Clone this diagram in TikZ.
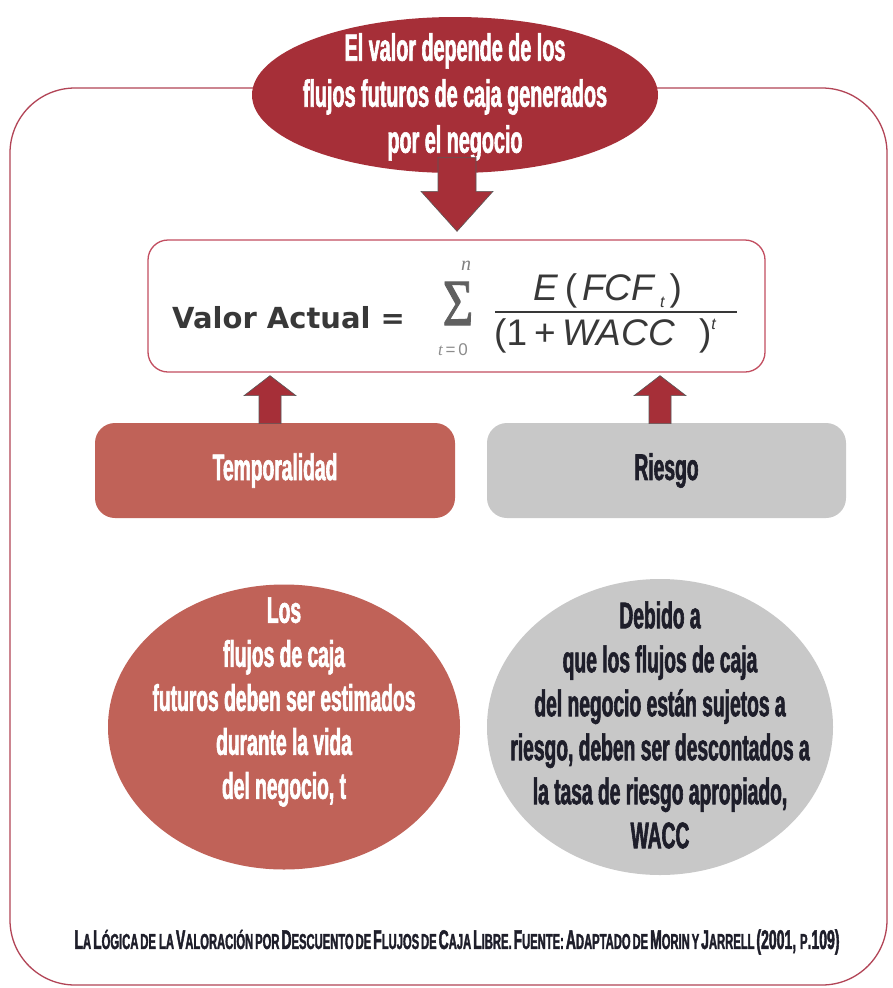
\documentclass[tikz,border=0pt]{standalone}
\usepackage{fontspec}
\usepackage{graphicx}
\usetikzlibrary{calc,shapes.geometric}
\newfontfamily\cond{Liberation Sans Bold}[FakeStretch=0.52,FakeBold=1.6]
\newfontfamily\djb{DejaVu Sans Bold}
\newfontfamily\lsi{Liberation Sans Italic}
\newfontfamily\lsr{Liberation Sans}
\newfontfamily\lser{Liberation Serif}[FakeBold=1.5]
\newfontfamily\lseri{Liberation Serif Italic}
\definecolor{darkred}{HTML}{A62F38}
\definecolor{salmon}{HTML}{C06258}
\definecolor{lgray}{HTML}{C8C8C8}
\definecolor{frame}{HTML}{B24456}
\definecolor{fborder}{HTML}{C24E60}
\definecolor{ink}{HTML}{1E1E2A}
\definecolor{fink}{HTML}{383838}
\newcommand\capw[2]{{\fontsize{20}{20}\selectfont #1}{\fontsize{16}{16}\selectfont #2}}
\begin{document}
\begin{tikzpicture}[x=1pt,y=-1pt,
  bigtxt/.style={font=\cond\fontsize{37}{44}\selectfont, align=center, inner sep=0pt},
  topell/.style={ellipse, fill=darkred, inner sep=0pt},
  roundbox/.style={rounded corners=20pt, inner sep=0pt},
  blockarrow/.style={fill=darkred, draw=black!65, line width=0.6pt, line join=miter}
]
\useasboundingbox (0,0) rectangle (892,988);
\fill[white] (0,0) rectangle (892,988);
% outer frame
\draw[frame, line width=1.3pt, rounded corners=65pt] (10,88) rectangle (887,985);
% formula box
\node[roundbox, draw=fborder, line width=1.3pt, fill=white, minimum width=617pt, minimum height=132pt] (formula) at (456.5,306) {};
% top ellipse
\node[topell, minimum width=406pt, minimum height=156pt] (top) at (455,95) {};
\node[bigtxt, font=\cond\fontsize{38}{46}\selectfont, text=white] (toptxt) at (455,97) {El valor depende de los\\flujos futuros de caja generados\\por el negocio};
% boxes
\node[roundbox, fill=salmon, minimum width=360pt, minimum height=95pt] (temp) at (275,470.5) {};
\node[bigtxt, text=white] (temptxt) at (temp.center) {Temporalidad};
\node[roundbox, fill=lgray, minimum width=359pt, minimum height=95pt] (riesgo) at (666.5,470.5) {};
\node[bigtxt, text=ink] (riesgotxt) at (riesgo.center) {Riesgo};
% down arrow
\coordinate (dt) at ($(formula.north)+(0.5,-8)$);
\draw[blockarrow] (dt) -- ++(-36,-40) -- ++(17,0) -- ++(0,-34) -- ++(38,0) -- ++(0,34) -- ++(17,0) -- cycle;
% up arrows
\coordinate (ul) at ($(formula.south)+(-186.5,3)$);
\coordinate (ur) at ($(formula.south)+(203.5,3)$);
\draw[blockarrow] (ul) -- ++(-26,20) -- ++(15,0) -- ++(0,28) -- ++(22,0) -- ++(0,-28) -- ++(15,0) -- cycle;
\draw[blockarrow] (ur) -- ++(-26,20) -- ++(15,0) -- ++(0,28) -- ++(22,0) -- ++(0,-28) -- ++(15,0) -- cycle;
% circles
\node[ellipse, fill=salmon, minimum width=352pt, minimum height=285pt, inner sep=0pt] (lc) at (284,727) {};
\node[bigtxt, text=white] (lctxt) at (284,702) {Los\\flujos de caja\\futuros deben ser estimados\\durante la vida\\del negocio, t};
\node[ellipse, fill=lgray, minimum width=346pt, minimum height=296pt, inner sep=0pt] (rc) at (660,727) {};
\node[bigtxt, text=ink] (rctxt) at (660,725) {Debido a\\que los flujos de caja\\del negocio están sujetos a\\riesgo, deben ser descontados a\\la tasa de riesgo apropiado,\\WACC};
% formula contents
\node[anchor=base west, inner sep=0pt, text=fink, font=\djb\fontsize{29}{29}\selectfont] (va) at (172,328) {Valor Actual =};
\node[anchor=base, inner sep=0pt, text=fink!80] (sig) at (458,325) {\scalebox{0.8}[1]{\lser\fontsize{66}{66}\selectfont Σ}};
\node[anchor=base, inner sep=0pt, text=black!50, font=\lseri\fontsize{20}{20}\selectfont] (nn) at (466,270) {n};
\node[anchor=base, inner sep=0pt, text=black!45, font=\lseri\fontsize{17}{17}\selectfont] (t0) at (453,355) {t\,{\lsr=}\,{\lsr 0}};
\node[anchor=base west, inner sep=0pt, text=fink, font=\fontsize{37}{37}\selectfont] (num) at (533,300) {{\lsi E}\hspace{7pt}{\lsr(}\hspace{5pt}{\lsi FCF}\hspace{6pt}\raisebox{-7pt}{\lsi\fontsize{16}{16}\selectfont t}\hspace{5pt}{\lsr)}};
\node[anchor=base west, inner sep=0pt, text=fink, font=\fontsize{37}{37}\selectfont] (den) at (494,345) {{\lsr(1\hspace{7pt}+\hspace{7pt}}{\lsi WACC}\hspace{24pt}{\lsr)}\raisebox{16pt}{\lsi\fontsize{16}{16}\selectfont t}};
\draw[fink, line width=1.8pt] ($(formula.center)+(38.5,6)$) coordinate (bl) -- ($(formula.center)+(280,6)$) coordinate (br);
% caption
\node[inner sep=0pt, text=ink] (cap) at (457,942) {\resizebox{765pt}{!}{\cond
\capw{L}{A} \capw{L}{ÓGICA} \capw{}{DE LA} \capw{V}{ALORACIÓN} \capw{}{POR} \capw{D}{ESCUENTO} \capw{}{DE} \capw{F}{LUJOS} \capw{}{DE} \capw{C}{AJA} \capw{L}{IBRE.} \capw{F}{UENTE:} \capw{A}{DAPTADO} \capw{}{DE} \capw{M}{ORIN} \capw{}{Y} \capw{J}{ARRELL} \capw{(2001, }{P}\capw{.109)}{}}};
\end{tikzpicture}
\end{document}
